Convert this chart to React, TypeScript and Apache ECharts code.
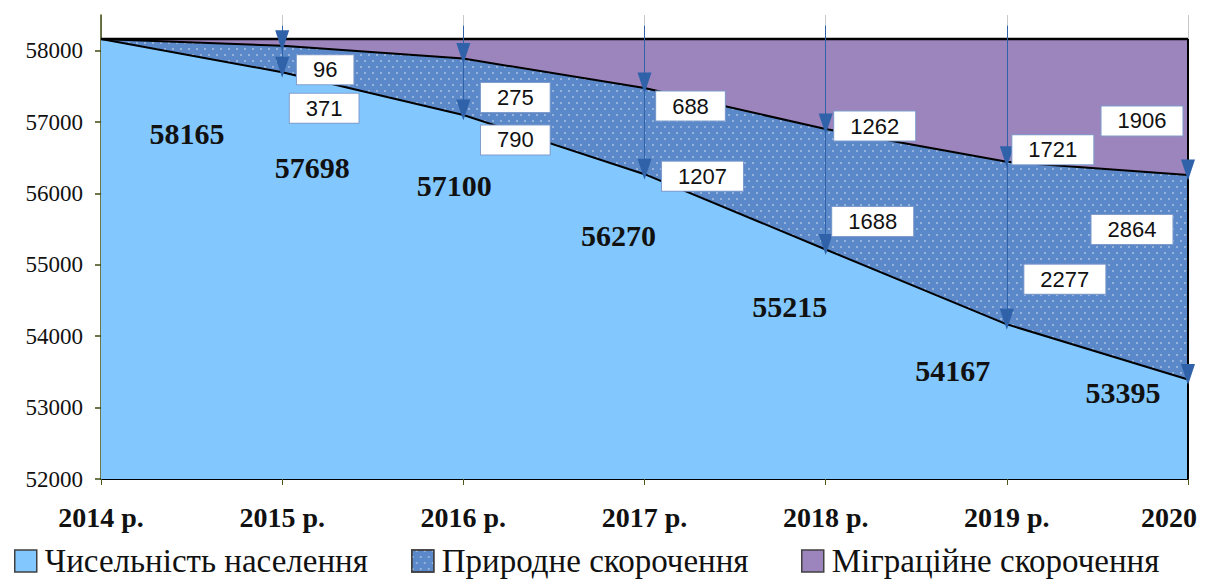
import React, { useEffect, useRef } from "react";
import * as echarts from "echarts";

const years = ["2014 р.", "2015 р.", "2016 р.", "2017 р.", "2018 р.", "2019 р.", "2020"];
const population = [58165, 57698, 57100, 56270, 55215, 54167, 53395];
const naturalDecrease = [0, 371, 790, 1207, 1688, 2277, 2864];
const migrationDecrease = [0, 96, 275, 688, 1262, 1721, 1906];
const yTicks = { min: 52000, max: 58500, interval: 1000 };
const seriesNames = ["Чисельність населення", "Природне скорочення", "Міграційне скорочення"];

// layout only (pixel offsets of the labels from their anchor points, legend x positions)
const POP_LABEL_OFFSETS = [[86, 95], [30, 95], [-9, 71], [-26, 61], [-36, 57], [-54, 46], [-65, 13]];
const MIG_BOX_OFFSETS = [null, [43, 24], [52, 39], [46, 18], [49, -3], [46, -12], [-46, -54]];
const NAT_BOX_OFFSETS = [null, [42, 36], [52, 25], [58, 2], [47, -28], [58, -45], [-56, -150]];
const LEGEND_LEFT = [9, 406, 796];
const ARROW_TOP = 58350;

const SERIF = "Liberation Serif";
const SANS = "Liberation Sans";
const ARROW = "#2f62a8";

export default function App() {
  const ref = useRef<HTMLDivElement>(null);
  useEffect(() => {
    if (!ref.current) return;
    document.body.style.margin = "0";
    const chart = echarts.init(ref.current, null, { renderer: "svg" });
    const top = population.map((p, i) => p + naturalDecrease[i] + migrationDecrease[i]);

    const boxLabel = (offset: number[]) => ({
      show: true,
      position: "inside",
      offset,
      formatter: "{c}",
      fontFamily: SANS,
      fontSize: 22,
      color: "#111",
      backgroundColor: "#fff",
      borderColor: "#7f9ccc",
      borderWidth: 1,
      padding: [4, 16, 3, 16],
    });

    const markPoints: any[] = [];
    population.forEach((p, i) => {
      markPoints.push({
        coord: [i, p],
        value: p,
        symbol: "circle",
        symbolSize: 1,
        itemStyle: { color: "transparent" },
        label: {
          show: true,
          position: "inside",
          offset: POP_LABEL_OFFSETS[i],
          formatter: "{c}",
          fontFamily: SERIF,
          fontWeight: "bold",
          fontSize: 30,
          color: "#111",
        },
      });
    });
    for (let i = 1; i < years.length; i++) {
      const migBoundary = population[i] + naturalDecrease[i];
      markPoints.push({
        coord: [i, migBoundary],
        value: migrationDecrease[i],
        symbol: "circle",
        symbolSize: 1,
        itemStyle: { color: "transparent" },
        label: boxLabel(MIG_BOX_OFFSETS[i] as number[]),
      });
      markPoints.push({
        coord: [i, population[i]],
        value: naturalDecrease[i],
        symbol: "circle",
        symbolSize: 1,
        itemStyle: { color: "transparent" },
        label: boxLabel(NAT_BOX_OFFSETS[i] as number[]),
      });
      // arrow heads
      markPoints.push({
        coord: [i, migBoundary],
        symbol: "triangle",
        symbolSize: [14, 21],
        symbolRotate: 180,
        symbolOffset: [0, -5],
        itemStyle: { color: ARROW },
        label: { show: false },
      });
      markPoints.push({
        coord: [i, population[i]],
        symbol: "triangle",
        symbolSize: [14, 21],
        symbolRotate: 180,
        symbolOffset: [0, -5],
        itemStyle: { color: ARROW },
        label: { show: false },
      });
    }

    const markLines: any[] = [];
    for (let i = 1; i < years.length - 1; i++) {
      markLines.push([
        { coord: [i, ARROW_TOP], lineStyle: { color: ARROW, width: 1, type: "solid" } },
        { coord: [i, population[i]] },
      ]);
    }
    const last = years.length - 1;
    markLines.push([
      { coord: [last, yTicks.min], lineStyle: { color: "#000", width: 2, type: "solid" } },
      { coord: [last, top[last]] },
    ]);

    const legends = seriesNames.map((name, i) => ({
      data: [name],
      left: LEGEND_LEFT[i],
      top: 539,
      icon: "rect",
      itemWidth: 22,
      itemHeight: 22,
      itemStyle: { borderColor: "#404040", borderWidth: 1.5 },
      textStyle: { fontFamily: SERIF, fontSize: 33, color: "#111", lineHeight: 34, padding: [0, 0, 0, 3] },
    }));

    chart.setOption({
      animation: false,
      grid: { left: 101, right: 25, top: 15, bottom: 100 },
      legend: legends,
      xAxis: {
        type: "category",
        data: years,
        boundaryGap: false,
        axisLine: { lineStyle: { color: "#000", width: 2 } },
        axisTick: { show: true, length: 6, lineStyle: { color: "#4b5a18" }, alignWithLabel: true },
        splitLine: { show: true, lineStyle: { color: "#c8c8c8", width: 1 } },
        axisLabel: {
          interval: 0,
          margin: 24,
          fontFamily: SERIF,
          fontWeight: "bold",
          fontSize: 28,
          color: "#111",
          formatter: (v: string) => (v === years[last] ? `{last|${v}}` : v),
          rich: {
            last: { fontFamily: SERIF, fontWeight: "bold", fontSize: 28, color: "#111", padding: [0, 38, 0, 0] },
          },
        },
      },
      yAxis: {
        type: "value",
        min: yTicks.min,
        max: yTicks.max,
        interval: yTicks.interval,
        axisLine: { show: true, lineStyle: { color: "#3d4a10", width: 1.5 } },
        axisTick: { show: true, length: 6, lineStyle: { color: "#3d4a10", width: 1.5 } },
        splitLine: { show: false },
        axisLabel: {
          margin: 18,
          fontFamily: SERIF,
          fontSize: 23,
          color: "#111",
          showMaxLabel: false,
          formatter: (v: number) => String(v),
        },
      },
      series: [
        {
          name: seriesNames[0],
          type: "line",
          stack: "total",
          data: population,
          symbol: "none",
          color: "#82c8ff",
          lineStyle: { color: "#000", width: 2 },
          areaStyle: { color: "#82c8ff", opacity: 1 },
          z: 2,
        },
        {
          name: seriesNames[1],
          type: "line",
          stack: "total",
          data: naturalDecrease,
          symbol: "none",
          color: "#5b88c8",
          itemStyle: {
            color: "#5b88c8",
            decal: {
              symbol: "rect",
              symbolSize: 1,
              color: "rgba(255,255,255,0.35)",
              dashArrayX: [[2, 6], [0, 4, 2, 2]],
              dashArrayY: [2, 4],
            },
          },
          lineStyle: { color: "#000", width: 2 },
          areaStyle: { color: "#5b88c8", opacity: 1 },
          z: 2,
        },
        {
          name: seriesNames[2],
          type: "line",
          stack: "total",
          data: migrationDecrease,
          symbol: "none",
          color: "#9c84bc",
          lineStyle: { color: "#000", width: 2.5 },
          areaStyle: { color: "#9c84bc", opacity: 1 },
          z: 2,
          markLine: { silent: true, symbol: ["none", "none"], label: { show: false }, data: markLines },
          markPoint: { silent: true, data: markPoints },
        },
      ],
    });
    return () => chart.dispose();
  }, []);
  return <div ref={ref} style={{ width: 1213, height: 579 }} />;
}
